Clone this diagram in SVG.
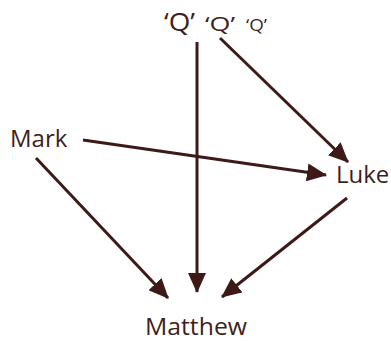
<svg xmlns="http://www.w3.org/2000/svg" width="391" height="341" viewBox="0 0 391 341">
<style>
.t{font-family:"Open Sans","Noto Sans",sans-serif;fill:#3d1f1c}
.c line{stroke:#3d1a17;stroke-width:3;fill:none;marker-end:url(#ah)}
</style>
<defs>
<marker id="ah" viewBox="0 0 20 18" refX="19" refY="9" markerWidth="20" markerHeight="18" markerUnits="userSpaceOnUse" orient="auto">
<path d="M0,0 L20,9 L0,18 z" fill="#3d1a17"/>
</marker>
</defs>
<rect width="391" height="341" fill="#ffffff"/>
<g class="c" id="connectors">
<line x1="197" y1="42" x2="197" y2="292"/>
<line x1="220" y1="38" x2="348" y2="162"/>
<line x1="83" y1="140" x2="326" y2="175"/>
<line x1="36" y1="158" x2="168" y2="298"/>
<line x1="347" y1="198" x2="222" y2="297"/>
</g>
<g id="q1"><text class="t" x="164" y="31" font-size="25" textLength="31" lengthAdjust="spacingAndGlyphs">‘Q’</text></g>
<g id="q2"><text class="t" x="205" y="31" font-size="20" textLength="30" lengthAdjust="spacingAndGlyphs">‘Q’</text></g>
<g id="q3"><text class="t" x="246" y="31" font-size="16" textLength="21" lengthAdjust="spacingAndGlyphs">‘Q’</text></g>
<g id="mark"><text class="t" x="10" y="147" font-size="24">Mark</text></g>
<g id="luke"><text class="t" x="336" y="183" font-size="24">Luke</text></g>
<g id="matthew"><text class="t" x="145" y="335" font-size="24" textLength="102" lengthAdjust="spacingAndGlyphs">Matthew</text></g>
</svg>
